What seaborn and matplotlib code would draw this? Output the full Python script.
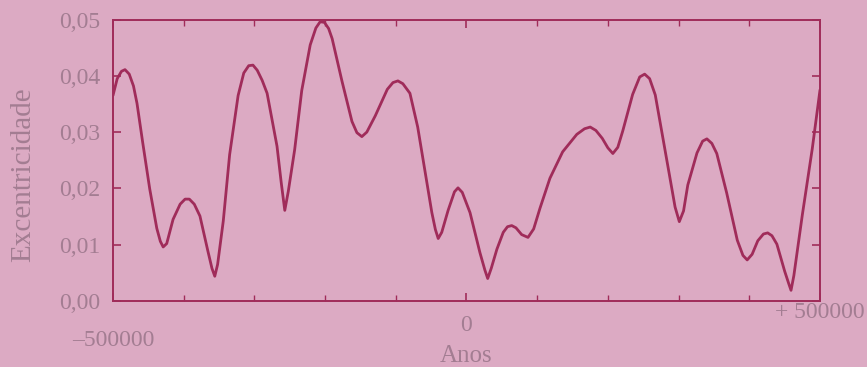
import numpy as np
import pandas as pd
import seaborn as sns
import matplotlib.pyplot as plt
from matplotlib.ticker import MultipleLocator
from matplotlib.transforms import ScaledTranslation

# excentricidade da orbita terrestre
anos = [-500000, -494000, -488000, -483000, -477000, -471000, -466000, -458000,
        -448000, -438000, -433000, -429000, -424000, -415000, -405000, -398000,
        -392000, -385000, -377000, -366000, -360000, -356000, -352000, -344000,
        -335000, -323000, -315000, -308000, -302000, -296000, -289000, -282000,
        -268000, -262000, -257000, -252000, -243000, -233000, -221000, -213000,
        -207000, -201000, -195000, -190000, -176000, -162000, -155000, -148000,
        -141000, -129000, -112000, -104000, -97000, -90000, -80000, -69000,
        -59000, -49000, -44000, -40000, -35000, -26000, -17000, -12000,
        -6000, 5000, 19000, 26000, 30000, 35000, 43000, 52000,
        58000, 64000, 70000, 78000, 87000, 95000, 104000, 118000,
        136000, 156000, 167000, 175000, 183000, 192000, 200000, 207000,
        214000, 221000, 235000, 245000, 252000, 259000, 267000, 278000,
        288000, 295000, 301000, 307000, 313000, 326000, 334000, 340000,
        347000, 354000, 368000, 383000, 391000, 397000, 404000, 412000,
        420000, 426000, 432000, 439000, 450000, 456000, 459000, 463000,
        475000, 489000, 500000]
excentricidade = [0.0365, 0.0395, 0.0408, 0.0411, 0.0403, 0.0382, 0.0351, 0.0282,
                  0.0199, 0.0129, 0.0106, 0.0096, 0.0102, 0.0145, 0.0172, 0.0181,
                  0.0181, 0.0172, 0.0151, 0.0090, 0.0058, 0.0044, 0.0065, 0.0142,
                  0.0260, 0.0365, 0.0405, 0.0418, 0.0419, 0.0410, 0.0392, 0.0369,
                  0.0275, 0.0210, 0.0161, 0.0195, 0.0269, 0.0374, 0.0455, 0.0485,
                  0.0496, 0.0495, 0.0484, 0.0466, 0.0390, 0.0319, 0.0299, 0.0292,
                  0.0300, 0.0329, 0.0376, 0.0388, 0.0391, 0.0386, 0.0369, 0.0309,
                  0.0233, 0.0157, 0.0127, 0.0111, 0.0122, 0.0161, 0.0194, 0.0201,
                  0.0193, 0.0157, 0.0086, 0.0055, 0.0040, 0.0058, 0.0092, 0.0122,
                  0.0132, 0.0134, 0.0130, 0.0118, 0.0113, 0.0128, 0.0165, 0.0218,
                  0.0265, 0.0296, 0.0306, 0.0309, 0.0303, 0.0289, 0.0272, 0.0262,
                  0.0273, 0.0302, 0.0367, 0.0398, 0.0403, 0.0395, 0.0366, 0.0288,
                  0.0217, 0.0167, 0.0141, 0.0160, 0.0206, 0.0263, 0.0284, 0.0288,
                  0.0280, 0.0262, 0.0192, 0.0108, 0.0081, 0.0073, 0.0083, 0.0107,
                  0.0119, 0.0121, 0.0116, 0.0101, 0.0053, 0.0030, 0.0019, 0.0045,
                  0.0153, 0.0270, 0.0375]

xticks = [-500000, 0, 500000]
xlabels = ["–500000", "0", "+ 500000"]
yticks = [0.00, 0.01, 0.02, 0.03, 0.04, 0.05]
ylabels = ["0,00", "0,01", "0,02", "0,03", "0,04", "0,05"]

df = pd.DataFrame({"Anos": anos, "Excentricidade": excentricidade})

fundo = "#dcaac3"
linha = "#a02c5a"
texto = "#a37d92"

sns.set_theme(style="ticks")
plt.rcParams['font.family'] = ['Liberation Serif', 'DejaVu Serif']

fig = plt.figure(figsize=(8.67, 3.67), dpi=100, facecolor=fundo)
ax = fig.add_axes([0.1303, 0.1798, 0.8155, 0.767])
ax.set_facecolor(fundo)

sns.lineplot(data=df, x="Anos", y="Excentricidade", ax=ax, color=linha, lw=2.0)

ax.set_xlim(-500000, 500000)
ax.set_ylim(0, 0.05)
ax.set_xticks(xticks)
ax.set_xticklabels(xlabels)
ax.xaxis.set_minor_locator(MultipleLocator(100000))
ax.set_yticks(yticks)
ax.set_yticklabels(ylabels)

for s in ax.spines.values():
    s.set_color(linha)
    s.set_linewidth(1.4)

ax.tick_params(which='both', direction='in', top=True, right=True, colors=linha,
               labelcolor=texto, labelsize=17)
ax.tick_params(which='major', length=6, width=1.2)
ax.tick_params(which='minor', length=4, width=1.0)
ax.tick_params(axis='x', pad=10)
ax.tick_params(axis='y', pad=9)

# o rotulo -500000 fica mais abaixo
offsets = [-11, 0, 9]
for lab, dy in zip(ax.get_xticklabels(), offsets):
    lab.set_transform(lab.get_transform() + ScaledTranslation(0, dy / 72, fig.dpi_scale_trans))

ax.set_xlabel("Anos", color=texto, fontsize=18)
ax.set_ylabel("Excentricidade", color=texto, fontsize=21)
ax.xaxis.set_label_coords(0.5, -0.158)
ax.yaxis.set_label_coords(-0.108, 0.45)

fig.savefig("out.png", dpi=100, facecolor=fundo)
